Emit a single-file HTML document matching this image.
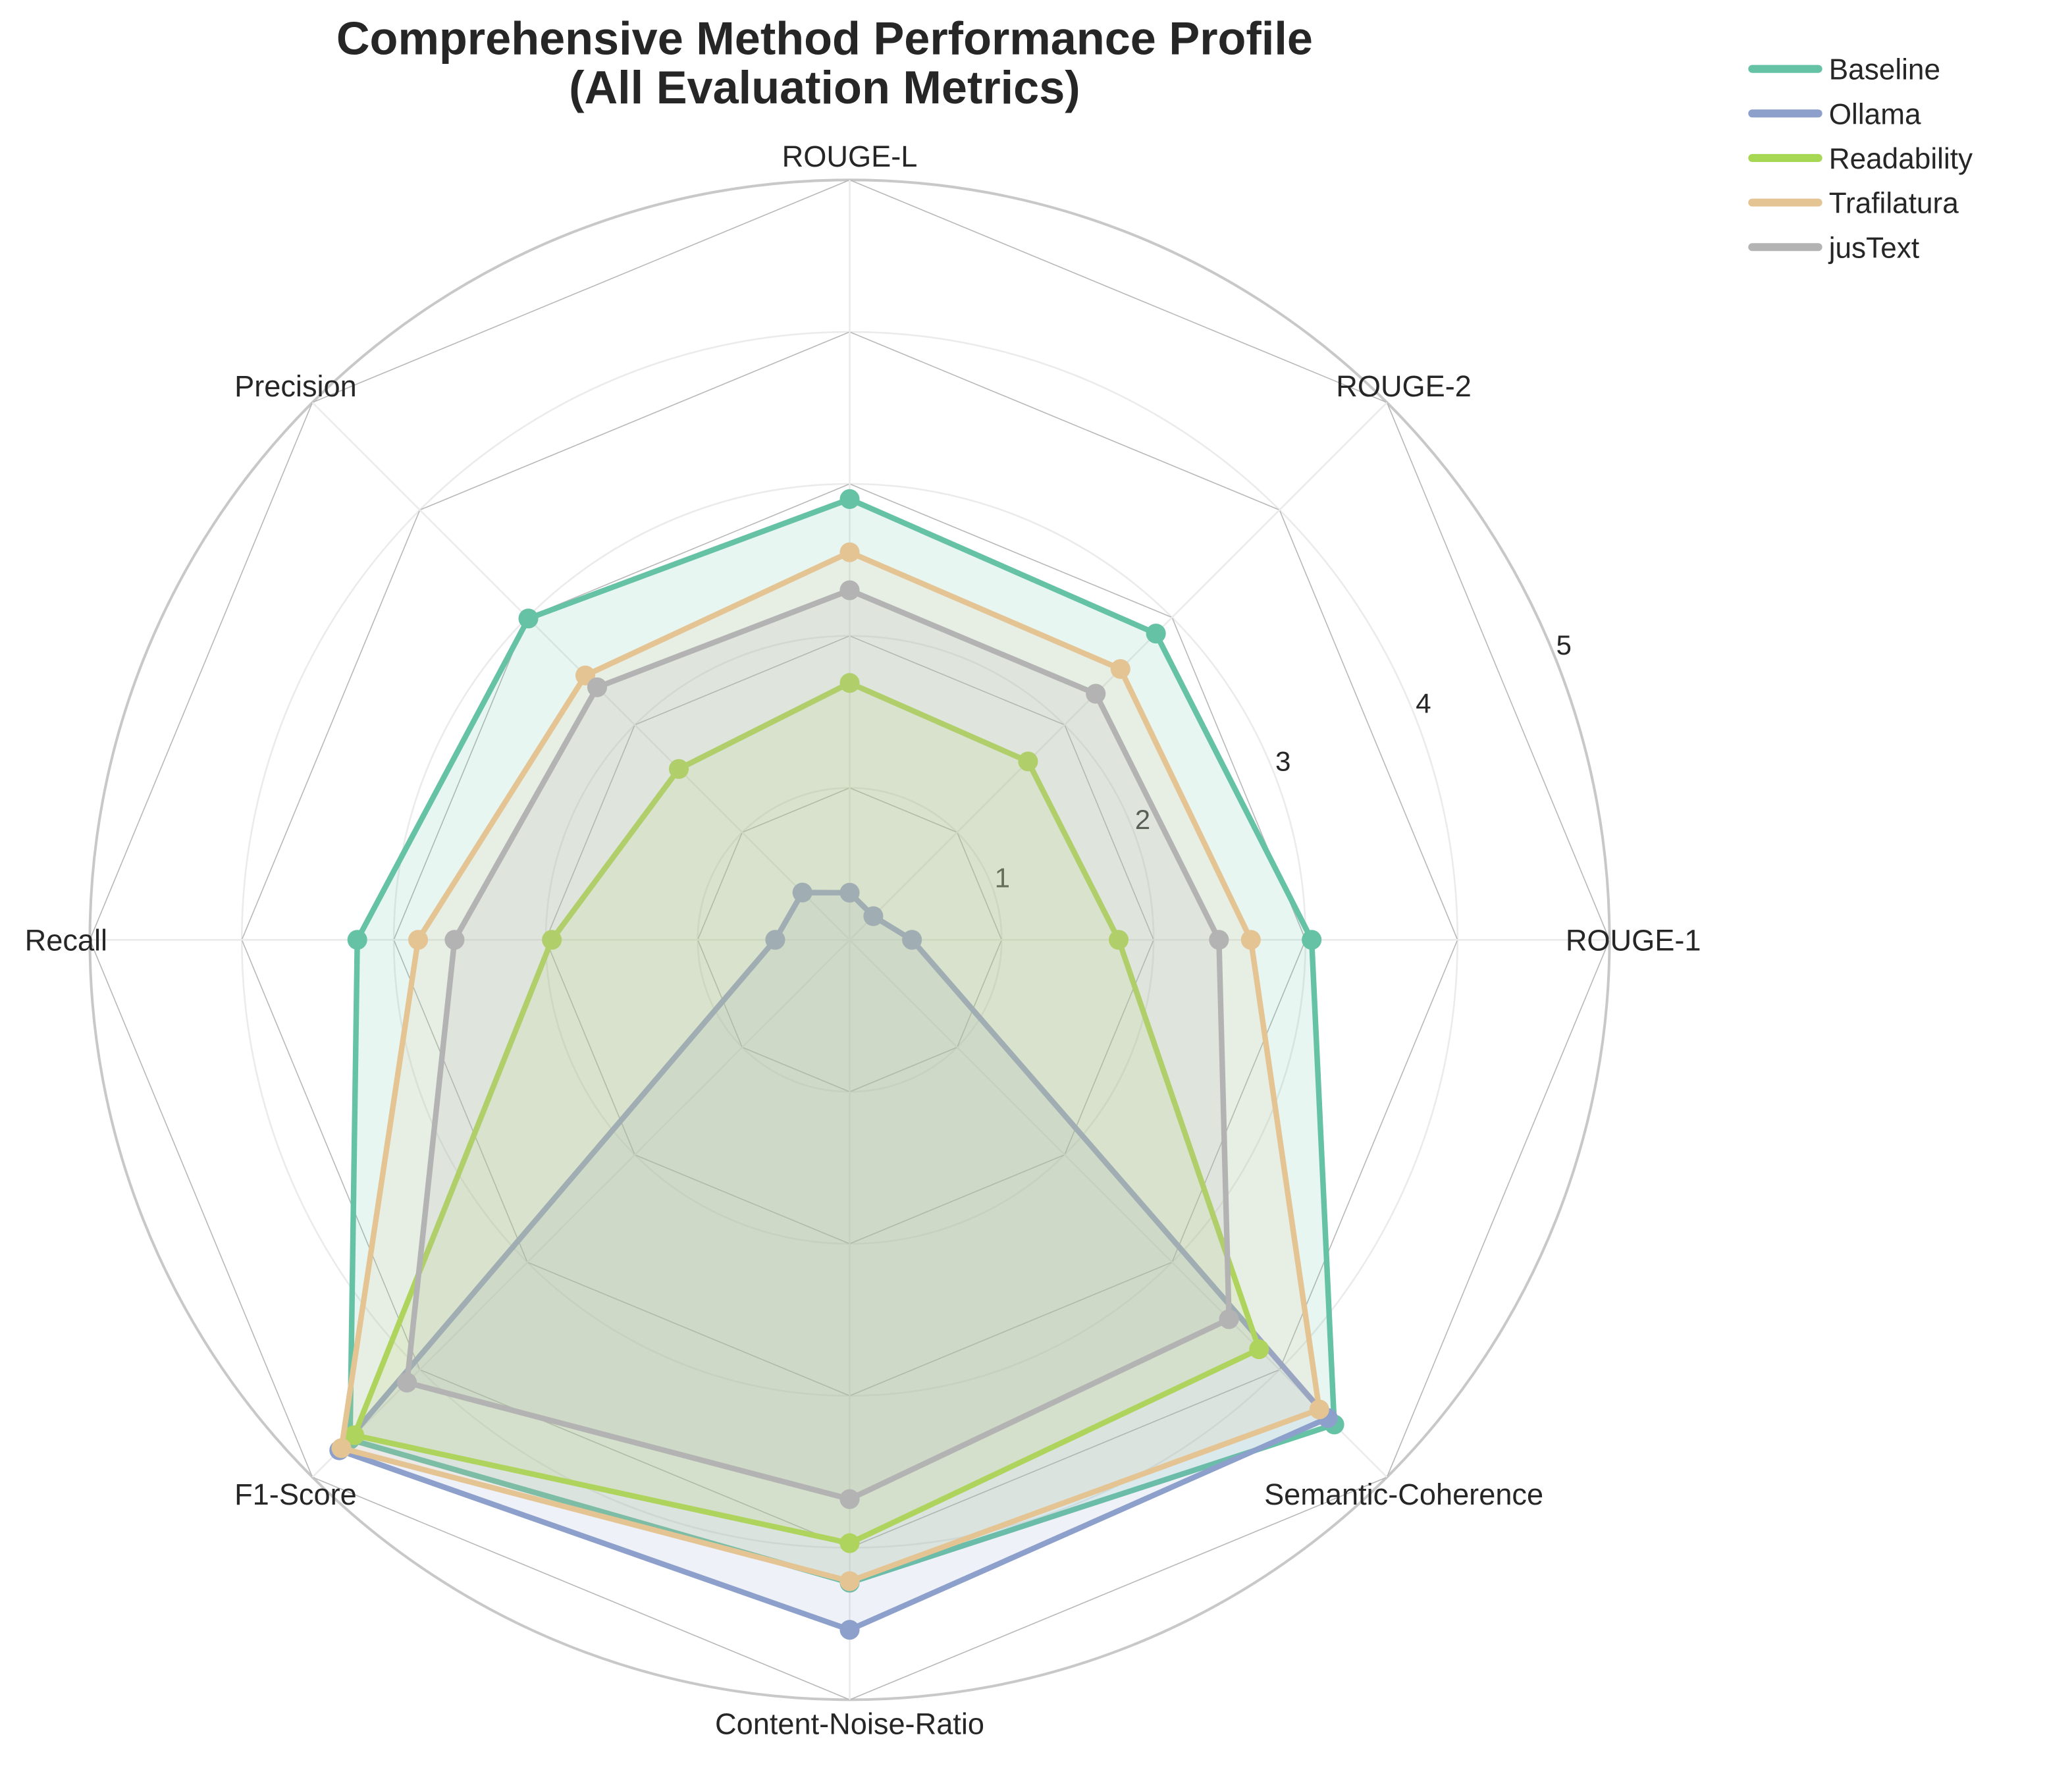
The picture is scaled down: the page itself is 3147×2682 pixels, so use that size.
<!DOCTYPE html>
<html><head><meta charset="utf-8"><style>
html,body{margin:0;padding:0;background:#fff;}
svg{display:block;font-family:"Liberation Sans",Arial,sans-serif;}
</style></head><body>
<svg id="chart" width="3147" height="2682" viewBox="0 0 1568 1336" xmlns="http://www.w3.org/2000/svg">
<g id="grid"></g>
<g id="series"></g>
<g id="labels"></g>
<text x="624" y="41" text-anchor="middle" font-size="35" font-weight="bold" fill="#262626">Comprehensive Method Performance Profile</text>
<text x="624" y="78" text-anchor="middle" font-size="35" font-weight="bold" fill="#262626">(All Evaluation Metrics)</text>
<g id="legend"></g>
</svg>
<script>
const categories = ["ROUGE-1","ROUGE-2","ROUGE-L","Precision","Recall","F1-Score","Content-Noise-Ratio","Semantic-Coherence"];
const seriesNames = ["Baseline","Ollama","Readability","Trafilatura","jusText"];
const baselineVals = [3.04,2.85,2.90,2.99,3.24,4.65,4.23,4.51];
const ollamaVals = [0.41,0.22,0.31,0.44,0.49,4.75,4.54,4.45];
const readabilityVals = [1.77,1.66,1.69,1.59,1.96,4.61,3.97,3.81];
const trafilaturaVals = [2.64,2.52,2.55,2.46,2.84,4.73,4.22,4.37];
const justextVals = [2.43,2.29,2.30,2.35,2.60,4.12,3.68,3.53];
const rTicks = ["1","2","3","4","5"];
const colors = ["#66c2a5","#8da0cb","#a6d854","#e5c494","#b3b3b3"];
const allVals = [baselineVals,ollamaVals,readabilityVals,trafilaturaVals,justextVals];

const NS="http://www.w3.org/2000/svg";
const cx=643, cy=711, R=575, rmax=5;
function rScale(v){return v/rmax*R;}
function angle(i){return i*2*Math.PI/categories.length;}
function pt(i,v){const a=angle(i), r=rScale(v);return [cx+r*Math.cos(a), cy-r*Math.sin(a)];}
function mk(tag,attrs,parent){const e=document.createElementNS(NS,tag);for(const k in attrs)e.setAttribute(k,attrs[k]);parent.appendChild(e);return e;}

const grid=document.getElementById('grid');
rTicks.forEach((t,k)=>{
  const v=+t;
  const c=mk('circle',{cx:cx,cy:cy,r:rScale(v),fill:'none',stroke:v===rmax?'#c8c8c8':'#ebebeb','stroke-width':v===rmax?2:1.3},grid);
  
  
  const pts=categories.map((_,i)=>pt(i,v).join(',')).join(' ');
  const p=mk('polygon',{points:pts,fill:'none',stroke:'#b8b8b8','stroke-width':0.8},grid);
  
  
});
categories.forEach((c,i)=>{
  const [x,y]=pt(i,rmax);
  const l=mk('line',{x1:cx,y1:cy,x2:x,y2:y,stroke:'#ebebeb','stroke-width':1.3},grid);
  
  
});
rTicks.forEach(t=>{
  const v=+t, a=22.5*Math.PI/180, r=rScale(v)+10;
  const tx=mk('text',{x:cx+r*Math.cos(a),y:cy-r*Math.sin(a)+8,'text-anchor':'middle','font-size':21,fill:'#262626'},grid);
  tx.textContent=t;
  
  
});

const sg=document.getElementById('series');
allVals.forEach((vals,s)=>{
  const g=mk('g',{},sg);
  
  
  const pts=vals.map((v,i)=>pt(i,v).join(',')).join(' ');
  const f=mk('polygon',{points:pts,fill:colors[s],'fill-opacity':0.15,stroke:'none'},g);
  
  
  const ln=mk('polygon',{points:pts,fill:'none',stroke:colors[s],'stroke-width':4.2,'stroke-linejoin':'round'},g);
  
  
  vals.forEach((v,i)=>{
    const [x,y]=pt(i,v);
    const m=mk('circle',{cx:x,cy:y,r:7.5,fill:colors[s]},g);
    
    
  });
});

const lg=document.getElementById('labels');
categories.forEach((c,i)=>{
  const a=angle(i), r=593;
  const t=mk('text',{x:cx+r*Math.cos(a),y:cy-r*Math.sin(a)+8,'text-anchor':'middle','font-size':22.5,fill:'#262626'},lg);
  t.textContent=c;
  
  
});

const leg=document.getElementById('legend');
seriesNames.forEach((n,s)=>{
  const y=52+s*33.7;
  const g=mk('g',{},leg);
  
  
  const l=mk('line',{x1:1326,y1:y,x2:1376,y2:y,stroke:colors[s],'stroke-width':6,'stroke-linecap':'round'},g);
  
  
  const t=mk('text',{x:1384,y:y+8,'font-size':22,fill:'#262626'},g);
  t.textContent=n;
  
  
});
</script>
</body></html>
